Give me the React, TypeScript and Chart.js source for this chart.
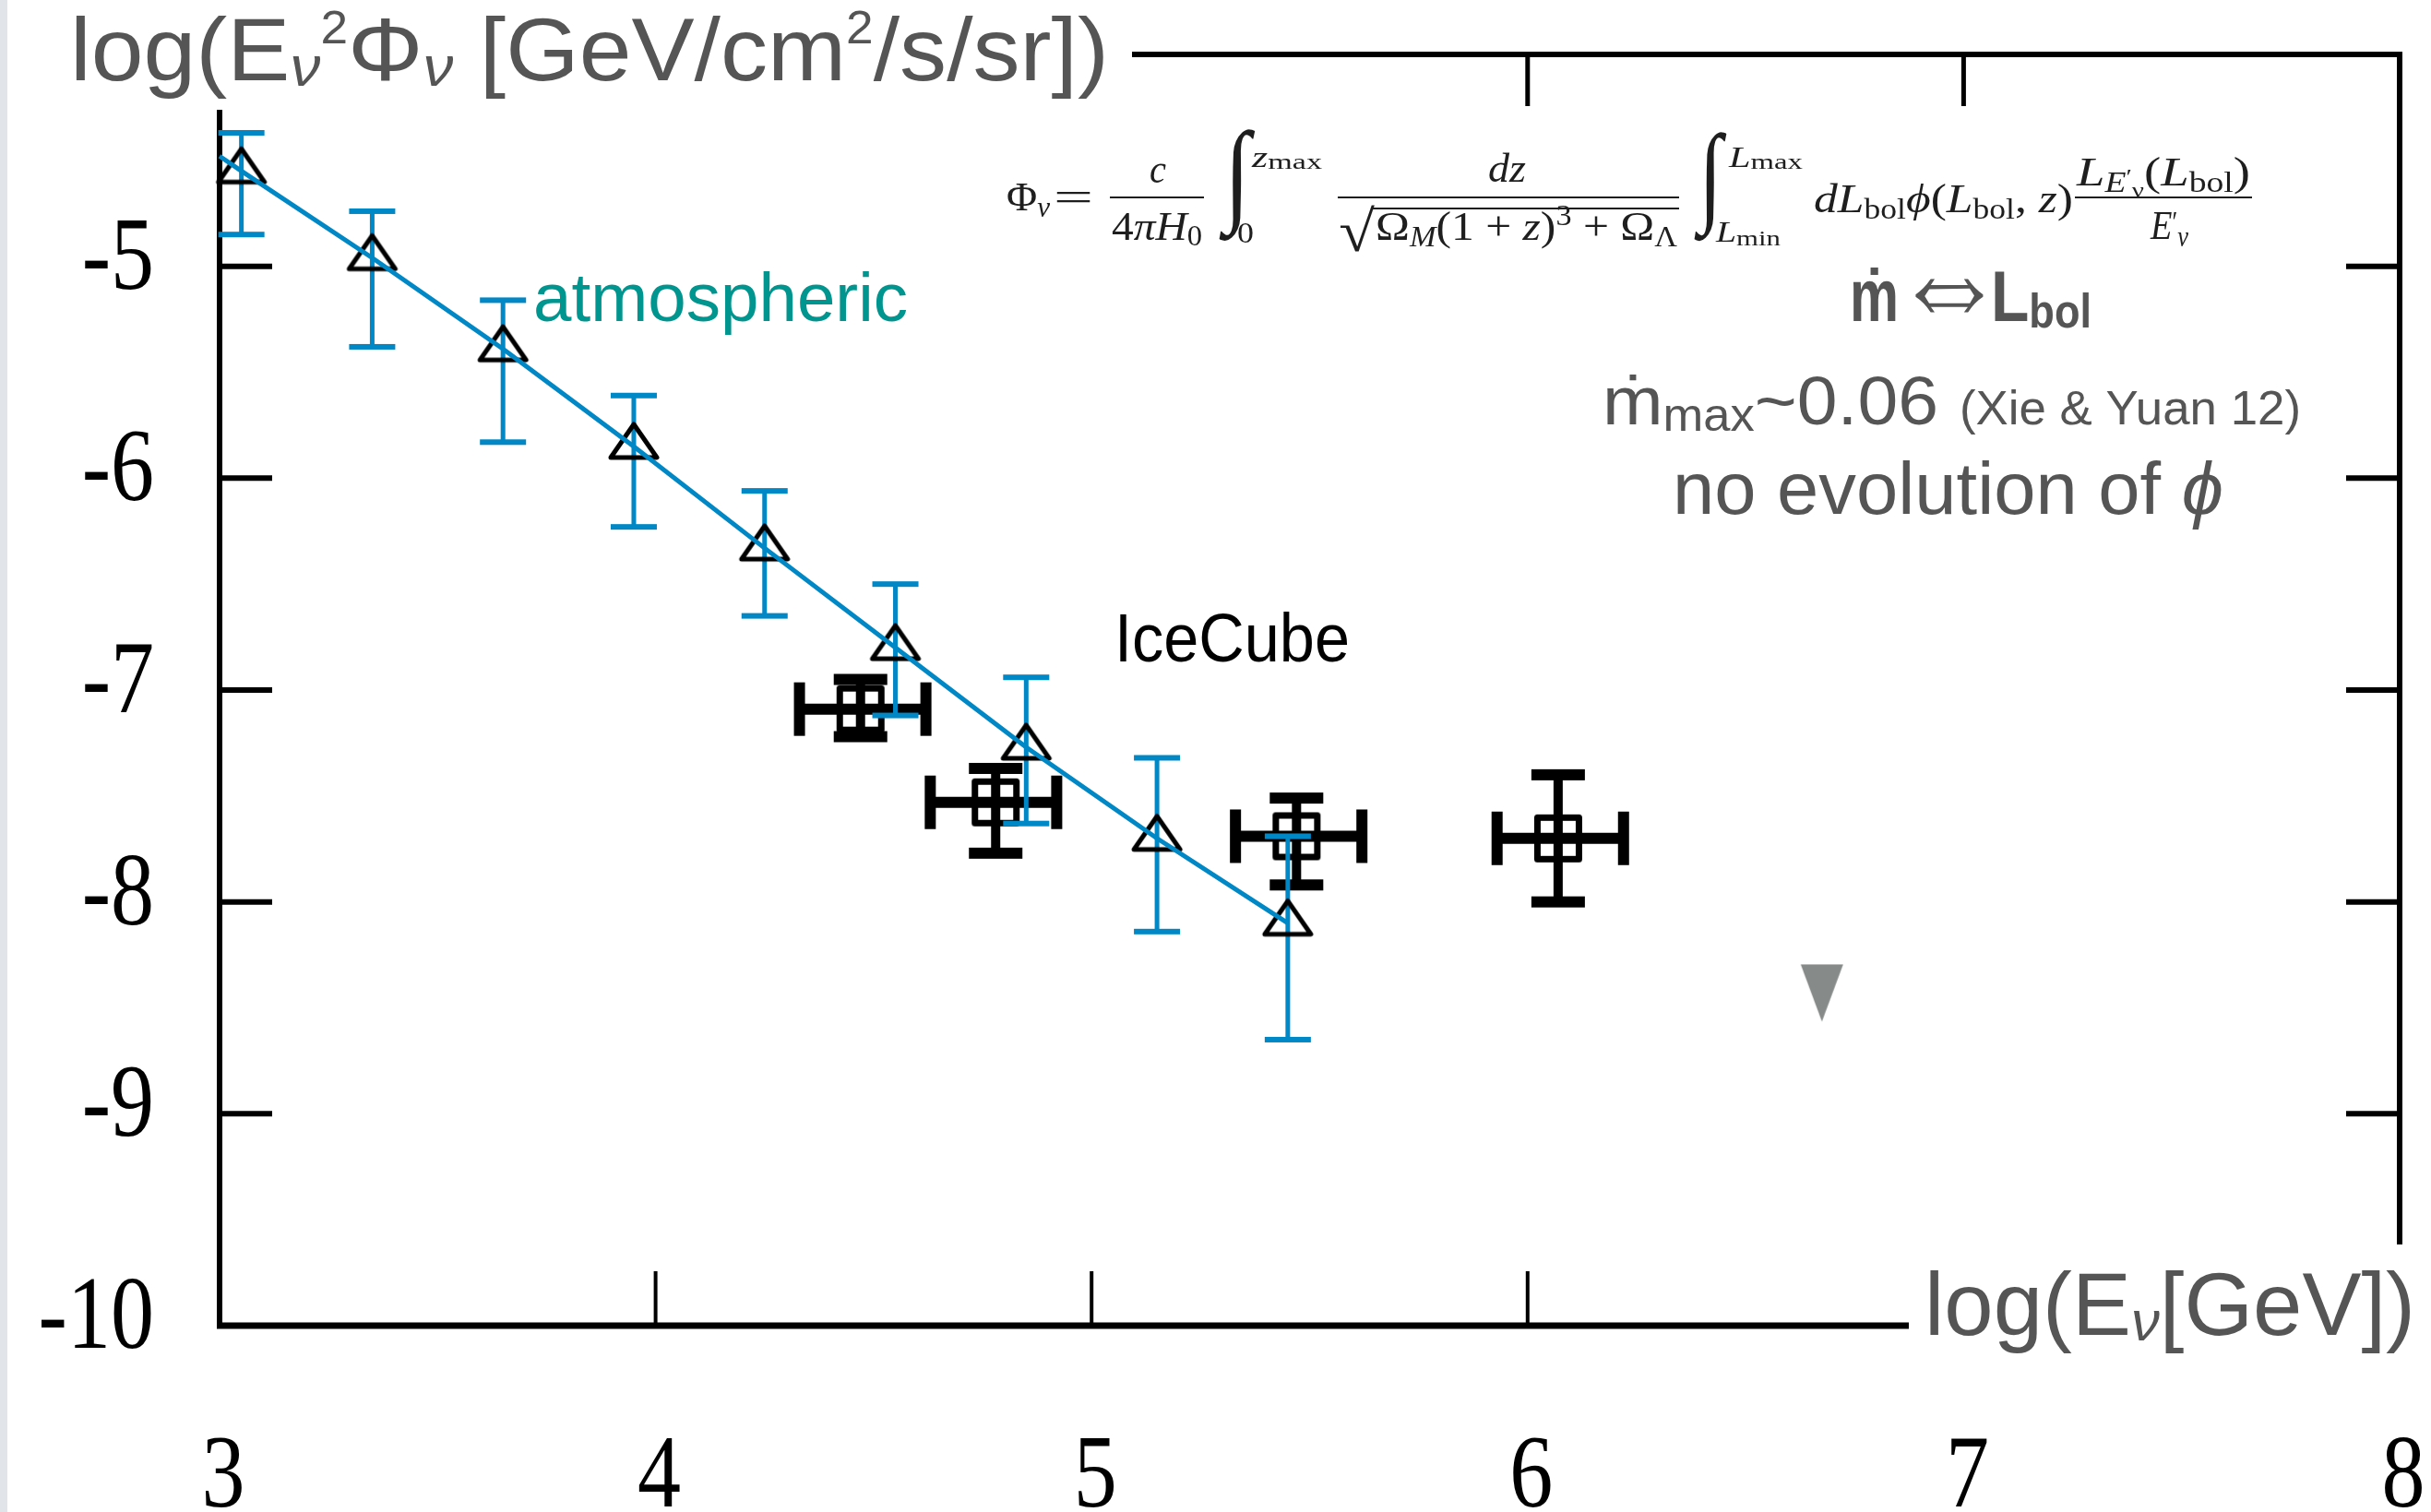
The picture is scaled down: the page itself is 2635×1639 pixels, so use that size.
import React, { useEffect, useRef } from "react";
import { Chart, registerables } from "chart.js";

Chart.register(...registerables);

const W = 2635;
const H = 1639;

// ---- data ----
const atmX = [3.05, 3.35, 3.65, 3.95, 4.25, 4.55, 4.85, 5.15, 5.45];
const atmY = [-4.55, -4.96, -5.39, -5.85, -6.33, -6.8, -7.27, -7.7, -8.1];
const atmHi = [-4.37, -4.74, -5.16, -5.61, -6.06, -6.5, -6.94, -7.32, -7.69];
const atmLo = [-4.85, -5.38, -5.83, -6.23, -6.65, -7.12, -7.63, -8.14, -8.65];

const modelX = [3.0, 3.05, 3.35, 3.65, 3.95, 4.25, 4.55, 4.85, 5.15, 5.45];
const modelY = [-4.48, -4.55, -4.96, -5.39, -5.85, -6.33, -6.8, -7.27, -7.7, -8.1];

const iceX = [4.47, 4.78, 5.47, 6.07];
const iceY = [-7.09, -7.53, -7.69, -7.7];
const iceXLo = [4.33, 4.63, 5.33, 5.93];
const iceXHi = [4.62, 4.92, 5.62, 6.22];
const iceYLo = [-7.22, -7.77, -7.92, -8.0];
const iceYHi = [-6.95, -7.37, -7.51, -7.4];

const limitX = [6.675];
const limitY = [-8.43];

const xTicks = [3, 4, 5, 6, 7, 8];
const yTicks = [-10, -9, -8, -7, -6, -5, -4];

// ---- styles ----
const BLUE = "#0087c5";
const TEAL = "#00968f";
const GRAY = "#555555";
const INK = "#1e1e1e";

const sans = (px: number, st = "") => `${st} ${px}px "Liberation Sans", Arial, sans-serif`;
const serif = (px: number, st = "") => `${st} ${px}px "Liberation Serif", "Times New Roman", serif`;

type Seg = { t: string; f: string; dy?: number; c?: string };

function drawRun(ctx: CanvasRenderingContext2D, segs: Seg[], x0: number, x1: number, baseline: number, color: string) {
  ctx.save();
  ctx.textAlign = "left";
  ctx.textBaseline = "alphabetic";
  let w = 0;
  for (const s of segs) {
    ctx.font = s.f;
    w += ctx.measureText(s.t).width;
  }
  const sx = (x1 - x0) / w;
  ctx.translate(x0, baseline);
  ctx.scale(sx, 1);
  let x = 0;
  for (const s of segs) {
    ctx.font = s.f;
    ctx.fillStyle = s.c || color;
    ctx.fillText(s.t, x, s.dy || 0);
    x += ctx.measureText(s.t).width;
  }
  ctx.restore();
}

function fitGlyph(ctx: CanvasRenderingContext2D, t: string, f: string, x0: number, x1: number, y0: number, y1: number, color: string) {
  ctx.save();
  ctx.textAlign = "left";
  ctx.textBaseline = "alphabetic";
  ctx.font = f;
  const m = ctx.measureText(t);
  const gw = m.actualBoundingBoxLeft + m.actualBoundingBoxRight;
  const gh = m.actualBoundingBoxAscent + m.actualBoundingBoxDescent;
  ctx.translate(x0, y0);
  ctx.scale((x1 - x0) / gw, (y1 - y0) / gh);
  ctx.fillStyle = color;
  ctx.fillText(t, m.actualBoundingBoxLeft, m.actualBoundingBoxAscent);
  ctx.restore();
}

function makeCanvas(w: number, h: number, draw: (c: CanvasRenderingContext2D) => void) {
  const c = document.createElement("canvas");
  c.width = w;
  c.height = h;
  const ctx = c.getContext("2d")!;
  draw(ctx);
  return c;
}

const decoPlugin = {
  id: "deco",
  beforeDraw(chart: any) {
    const ctx = chart.ctx as CanvasRenderingContext2D;
    ctx.save();
    ctx.fillStyle = "#ffffff";
    ctx.fillRect(0, 0, W, H);
    ctx.restore();
  },
  beforeDatasetsDraw(chart: any) {
    const ctx = chart.ctx as CanvasRenderingContext2D;
    const { left, right, top, bottom } = chart.chartArea;
    const xs = chart.scales.x;
    const ys = chart.scales.y;
    ctx.save();
    ctx.strokeStyle = "#000";
    ctx.lineCap = "butt";
    // frame
    ctx.lineWidth = 6;
    ctx.beginPath();
    ctx.moveTo(left, top);
    ctx.lineTo(left, bottom + 3);
    ctx.stroke();
    ctx.lineWidth = 7;
    ctx.beginPath();
    ctx.moveTo(left - 3, bottom);
    ctx.lineTo(right, bottom);
    ctx.stroke();
    ctx.lineWidth = 6;
    ctx.beginPath();
    ctx.moveTo(left, top);
    ctx.lineTo(right + 3, top);
    ctx.stroke();
    ctx.lineWidth = 6;
    ctx.beginPath();
    ctx.moveTo(right, top);
    ctx.lineTo(right, bottom);
    ctx.stroke();
    // y ticks (inward, both sides)
    ctx.lineWidth = 6;
    for (const v of yTicks) {
      const py = ys.getPixelForValue(v);
      if (py <= top + 1 || py >= bottom - 1) continue;
      ctx.beginPath();
      ctx.moveTo(left, py);
      ctx.lineTo(left + 57, py);
      ctx.stroke();
      ctx.beginPath();
      ctx.moveTo(right, py);
      ctx.lineTo(right - 58, py);
      ctx.stroke();
    }
    // x ticks (inward, bottom & top)
    for (const v of xTicks) {
      const px = xs.getPixelForValue(v);
      if (px <= left + 1 || px >= right - 1) continue;
      ctx.lineWidth = 4;
      ctx.beginPath();
      ctx.moveTo(px, bottom);
      ctx.lineTo(px, bottom - 59);
      ctx.stroke();
      ctx.lineWidth = 5;
      ctx.beginPath();
      ctx.moveTo(px, top);
      ctx.lineTo(px, top + 56);
      ctx.stroke();
    }
    ctx.restore();
  },
  afterDatasetDraw(chart: any, args: any) {
    if (args.index !== 2) return;
    const ctx = chart.ctx as CanvasRenderingContext2D;
    const xs = chart.scales.x;
    const ys = chart.scales.y;
    ctx.save();
    // IceCube error bars
    ctx.strokeStyle = "#000";
    ctx.fillStyle = "#000";
    ctx.lineCap = "butt";
    for (let i = 0; i < iceX.length; i++) {
      const px = xs.getPixelForValue(iceX[i]);
      const py = ys.getPixelForValue(iceY[i]);
      const xl = xs.getPixelForValue(iceXLo[i]);
      const xh = xs.getPixelForValue(iceXHi[i]);
      const yl = ys.getPixelForValue(iceYLo[i]);
      const yh = ys.getPixelForValue(iceYHi[i]);
      ctx.lineWidth = 12;
      ctx.beginPath();
      ctx.moveTo(xl, py);
      ctx.lineTo(xh, py);
      ctx.stroke();
      ctx.lineWidth = 10;
      ctx.beginPath();
      ctx.moveTo(px, yh);
      ctx.lineTo(px, yl);
      ctx.stroke();
      ctx.fillRect(xl - 6, py - 29, 12, 58);
      ctx.fillRect(xh - 6, py - 29, 12, 58);
      ctx.fillRect(px - 29, yh - 6, 58, 12);
      ctx.fillRect(px - 29, yl - 6, 58, 12);
    }
    // atmospheric error bars
    ctx.strokeStyle = BLUE;
    ctx.fillStyle = BLUE;
    ctx.lineWidth = 5;
    for (let i = 0; i < atmX.length; i++) {
      const px = xs.getPixelForValue(atmX[i]);
      const yh = ys.getPixelForValue(atmHi[i]);
      const yl = ys.getPixelForValue(atmLo[i]);
      ctx.beginPath();
      ctx.moveTo(px, yh);
      ctx.lineTo(px, yl);
      ctx.stroke();
      ctx.fillRect(px - 25, yh - 3, 50, 6);
      ctx.fillRect(px - 25, yl - 3, 50, 6);
    }
    ctx.restore();
  },
  afterDraw(chart: any) {
    const ctx = chart.ctx as CanvasRenderingContext2D;
    const xs = chart.scales.x;
    const ys = chart.scales.y;
    ctx.save();
    // white boxes behind the axis titles
    ctx.fillStyle = "#ffffff";
    ctx.fillRect(0, 0, 1227, 119);
    ctx.fillRect(2069, 1349, W - 2069, 160);

    // tick labels
    ctx.fillStyle = "#000";
    ctx.font = serif(112);
    ctx.textBaseline = "alphabetic";
    for (const v of yTicks) {
      if (v === -4) continue;
      const py = ys.getPixelForValue(v);
      ctx.save();
      ctx.translate(167, py + 24);
      ctx.scale(0.84, 1);
      ctx.textAlign = "right";
      ctx.fillText(String(v), 0, 0);
      ctx.restore();
    }
    for (const v of xTicks) {
      const px = xs.getPixelForValue(v);
      ctx.save();
      ctx.translate(px + 4, 1633);
      ctx.scale(0.84, 1);
      ctx.textAlign = "center";
      ctx.fillText(String(v), 0, 0);
      ctx.restore();
    }

    // axis titles
    drawRun(
      ctx,
      [
        { t: "log(E", f: sans(96) },
        { t: "ν", f: sans(62, "italic"), dy: 6 },
        { t: "2", f: sans(50), dy: -40 },
        { t: "Φ", f: sans(96) },
        { t: "ν", f: sans(62, "italic"), dy: 6 },
        { t: " [GeV/cm", f: sans(96) },
        { t: "2", f: sans(50), dy: -40 },
        { t: "/s/sr])", f: sans(96) },
      ],
      76,
      1202,
      87,
      GRAY
    );
    drawRun(
      ctx,
      [
        { t: "log(E", f: sans(96) },
        { t: "ν", f: sans(62, "italic"), dy: 6 },
        { t: "[GeV])", f: sans(96) },
      ],
      2086,
      2618,
      1447,
      GRAY
    );

    // annotations
    drawRun(ctx, [{ t: "atmospheric", f: sans(74) }], 578, 984, 348, TEAL);
    drawRun(ctx, [{ t: "IceCube", f: sans(75) }], 1208, 1463, 717, "#000");
    drawRun(ctx, [{ t: "ṁ", f: sans(80, "bold") }], 2005, 2058, 348, GRAY);
    fitGlyph(ctx, "⇔", sans(100, "bold"), 2076, 2150, 301, 339, GRAY);
    drawRun(
      ctx,
      [
        { t: "L", f: sans(78, "bold") },
        { t: "bol", f: sans(52, "bold"), dy: 7 },
      ],
      2158,
      2267,
      348,
      GRAY
    );
    drawRun(
      ctx,
      [
        { t: "ṁ", f: sans(75) },
        { t: "max", f: sans(50), dy: 7 },
        { t: "~0.06", f: sans(75) },
      ],
      1737,
      2101,
      460,
      GRAY
    );
    drawRun(ctx, [{ t: "(Xie & Yuan 12)", f: sans(52) }], 2124, 2494, 460, GRAY);
    drawRun(
      ctx,
      [
        { t: "no evolution of ", f: sans(80) },
        { t: "ϕ", f: sans(80, "italic") },
      ],
      1813,
      2410,
      557,
      GRAY
    );

    // formula
    const M = (s = "") => serif(45, s);
    const S = (s = "") => serif(31, s);
    const S2 = serif(24);
    drawRun(ctx, [{ t: "Φ", f: M() }, { t: "ν", f: S("italic"), dy: 7 }], 1091, 1138, 228, INK);
    drawRun(ctx, [{ t: "=", f: M() }], 1142, 1185, 228, INK);
    drawRun(ctx, [{ t: "c", f: M("italic") }], 1246, 1264, 198, INK);
    drawRun(
      ctx,
      [
        { t: "4", f: M() },
        { t: "π", f: M("italic") },
        { t: "H", f: M("italic") },
        { t: "0", f: S(), dy: 6 },
      ],
      1205,
      1303,
      260,
      INK
    );
    fitGlyph(ctx, "∫", serif(120), 1321, 1361, 140, 262, INK);
    drawRun(ctx, [{ t: "z", f: S("italic") }, { t: "max", f: S2, dy: 2 }], 1357, 1433, 181, INK);
    drawRun(ctx, [{ t: "0", f: S() }], 1341, 1359, 263, INK);
    drawRun(ctx, [{ t: "dz", f: M("italic") }], 1613, 1654, 197, INK);
    fitGlyph(ctx, "√", serif(80), 1453, 1490, 222, 273, INK);
    drawRun(
      ctx,
      [
        { t: "Ω", f: M() },
        { t: "M", f: S("italic"), dy: 7 },
        { t: "(1 + ", f: M() },
        { t: "z", f: M("italic") },
        { t: ")", f: M() },
        { t: "3", f: S(), dy: -16 },
        { t: " + ", f: M() },
        { t: "Ω", f: M() },
        { t: "Λ", f: S(), dy: 7 },
      ],
      1491,
      1818,
      260,
      INK
    );
    fitGlyph(ctx, "∫", serif(120), 1836, 1872, 143, 262, INK);
    drawRun(ctx, [{ t: "L", f: S("italic") }, { t: "max", f: S2, dy: 2 }], 1874, 1954, 181, INK);
    drawRun(ctx, [{ t: "L", f: S("italic") }, { t: "min", f: S2, dy: 4 }], 1860, 1930, 262, INK);
    drawRun(
      ctx,
      [
        { t: "d", f: M("italic") },
        { t: "L", f: M("italic") },
        { t: "bol", f: S(), dy: 7 },
        { t: "ϕ", f: M("italic") },
        { t: "(", f: M() },
        { t: "L", f: M("italic") },
        { t: "bol", f: S(), dy: 7 },
        { t: ", ", f: M() },
        { t: "z", f: M("italic") },
        { t: ")", f: M() },
      ],
      1966,
      2247,
      230,
      INK
    );
    drawRun(
      ctx,
      [
        { t: "L", f: M("italic") },
        { t: "E", f: S("italic"), dy: 7 },
        { t: "′", f: S2, dy: -2 },
        { t: "ν", f: S2, dy: 13 },
        { t: "(", f: M() },
        { t: "L", f: M("italic") },
        { t: "bol", f: S(), dy: 7 },
        { t: ")", f: M() },
      ],
      2251,
      2439,
      201,
      INK
    );
    drawRun(
      ctx,
      [
        { t: "E", f: M("italic") },
        { t: "′", f: S(), dy: -8 },
        { t: "ν", f: S("italic"), dy: 8 },
      ],
      2331,
      2372,
      259,
      INK
    );
    ctx.strokeStyle = INK;
    ctx.lineWidth = 2;
    for (const [a, b] of [
      [1203, 1305],
      [1450, 1820],
      [2249, 2441],
    ]) {
      ctx.beginPath();
      ctx.moveTo(a, 214);
      ctx.lineTo(b, 214);
      ctx.stroke();
    }
    ctx.beginPath();
    ctx.moveTo(1486, 226);
    ctx.lineTo(1820, 226);
    ctx.stroke();

    // light strip at the left edge
    ctx.fillStyle = "#e1e5e9";
    ctx.fillRect(0, 0, 8, H);
    ctx.restore();
  },
};

export default function App() {
  const ref = useRef<HTMLCanvasElement | null>(null);
  useEffect(() => {
    const canvas = ref.current;
    if (!canvas) return;

    const triImg = makeCanvas(64, 80, (c) => {
      c.strokeStyle = "#000";
      c.lineWidth = 5;
      c.lineJoin = "round";
      c.beginPath();
      c.moveTo(32, 16);
      c.lineTo(57, 52);
      c.lineTo(7, 52);
      c.closePath();
      c.stroke();
    });
    const sqImg = makeCanvas(60, 60, (c) => {
      c.strokeStyle = "#000";
      c.lineWidth = 7;
      c.lineJoin = "round";
      c.strokeRect(7.5, 7.5, 45, 45);
    });
    const downImg = makeCanvas(48, 64, (c) => {
      c.fillStyle = "#868a88";
      c.beginPath();
      c.moveTo(1, 1);
      c.lineTo(47, 1);
      c.lineTo(24, 63);
      c.closePath();
      c.fill();
    });

    const chart = new Chart(canvas, {
      type: "scatter",
      data: {
        datasets: [
          {
            label: "model",
            data: modelX.map((x, i) => ({ x, y: modelY[i] })),
            showLine: true,
            borderColor: BLUE,
            borderWidth: 5,
            pointRadius: 0,
            tension: 0,
            order: 0,
            clip: false,
          } as any,
          {
            label: "atmospheric",
            data: atmX.map((x, i) => ({ x, y: atmY[i] })),
            pointStyle: triImg,
            pointRadius: 20,
            order: 1,
            clip: false,
          } as any,
          {
            label: "IceCube",
            data: iceX.map((x, i) => ({ x, y: iceY[i] })),
            pointStyle: sqImg,
            pointRadius: 20,
            order: 3,
            clip: false,
          } as any,
          {
            label: "limit",
            data: limitX.map((x, i) => ({ x, y: limitY[i] })),
            pointStyle: downImg,
            pointRadius: 20,
            order: 4,
            clip: false,
          } as any,
        ],
      },
      options: {
        animation: false,
        responsive: false,
        devicePixelRatio: 1,
        events: [],
        layout: { padding: { left: 238, right: W - 2601, top: 59, bottom: H - 1437 } },
        scales: {
          x: { type: "linear", min: 3, max: 8, display: false },
          y: { type: "linear", min: -10, max: -4, display: false },
        },
        plugins: { legend: { display: false }, tooltip: { enabled: false } },
      } as any,
      plugins: [decoPlugin as any],
    });
    return () => chart.destroy();
  }, []);

  return (
    <div style={{ position: "fixed", left: 0, top: 0, width: W, height: H, background: "#fff" }}>
      <canvas ref={ref} width={W} height={H} style={{ width: W, height: H, display: "block" }} />
    </div>
  );
}
